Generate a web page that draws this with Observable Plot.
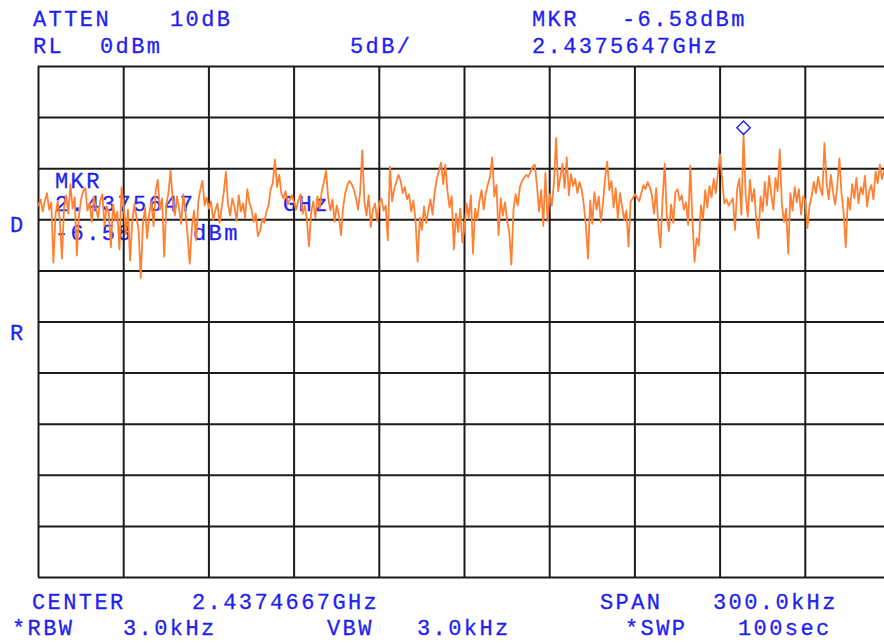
<!DOCTYPE html>
<html>
<head>
<meta charset="utf-8">
<script src="https://cdn.jsdelivr.net/npm/d3@7"></script>
<script src="https://cdn.jsdelivr.net/npm/@observablehq/plot@0.6"></script>
<style>
  body { margin: 0; background: #fff; }
  #wrap { position: relative; width: 884px; height: 643px; overflow: hidden; background: #fff; }
  #labels { position: absolute; left: 0; top: 0; z-index: 1; }
  #labels text { font-family: "Liberation Mono", monospace; font-size: 22px; letter-spacing: 2.4px; fill: #1f1ff0; stroke: #1f1ff0; stroke-width: 0.3px; }
  #chart { position: absolute; left: 0; top: 0; z-index: 2; }
</style>
</head>
<body>
<div id="wrap">
  <svg id="labels" width="884" height="643"></svg>
  <div id="chart"></div>
</div>
<script>
// ---- Instrument settings / text ----
const CENTER_KHZ = 0;          // centre of span (2.4374667 GHz)
const SPAN_KHZ = 300;          // 300.0 kHz span
const REF_LEVEL = 0;           // RL 0 dBm
const DB_PER_DIV = 5;          // 5 dB/div
const DIVS = 10;
const SWEEP_POINTS = 401;

const headerTexts = ["ATTEN", "10dB", "RL", "0dBm", "5dB/", "MKR", "-6.58dBm", "2.4375647GHz"];
const footerTexts = ["CENTER", "2.4374667GHz", "SPAN", "300.0kHz", "*RBW", "3.0kHz", "VBW", "3.0kHz", "*SWP", "100sec"];
const sideTexts = ["D", "R"];
const readoutTexts = ["MKR", "2.4375647", "GHz", "-6.58", "dBm"];

// marker: 2.4375647 GHz -> +98 kHz from centre, -6.58 dBm
const markerIndex = 331;
const markerValue = -6.58;

// ---- Trace (dBm), one value per sweep point ----
const trace0 = [-13.6,-13.0,-14.2,-13.1,-12.4,-14.0,-13.3,-19.2,-14.5,-13.2,-15.0,-18.8,-13.8,-12.6,-14.4,-11.5,-13.9,-12.8,-18.5,-14.6,-13.0,-12.2,-11.9,-14.1,-13.4,-15.2,-12.7,-13.9,-14.8,-13.1,-12.5,-15.6,-13.7,-14.3,-17.7,-13.5,-15.0,-14.2,-17.9,-11.8];
const trace1 = [-13.6,-16.4,-14.0,-19.0,-15.2,-13.5,-14.7,-16.0,-20.7,-15.5,-13.8,-16.8,-14.4,-13.2,-15.6,-12.2,-11.1,-14.0,-12.9,-18.6,-13.5,-12.4,-10.2,-13.0,-14.6,-12.7,-13.9,-15.4,-12.5,-14.2,-16.5,-19.3,-15.8,-14.1,-17.0,-13.3,-12.0,-11.2,-13.6,-12.8];
const trace2 = [-13.9,-13.2,-15.0,-14.1,-13.4,-15.3,-13.8,-12.3,-10.3,-13.5,-14.6,-12.9,-13.7,-15.1,-12.6,-14.2,-13.4,-14.8,-12.0,-13.3,-14.0,-15.2,-14.4,-16.6,-16.1,-14.9,-15.3,-14.2,-13.6,-12.0,-11.4,-9.1,-11.8,-10.6,-12.4,-12.9,-12.2,-13.5,-13.0,-12.6];
const trace3 = [-13.3,-14.0,-13.1,-12.5,-14.4,-13.6,-15.0,-17.6,-14.3,-13.2,-14.8,-12.7,-13.9,-12.2,-11.3,-10.2,-12.8,-14.1,-13.0,-15.2,-13.6,-14.5,-16.5,-13.8,-12.4,-11.6,-11.2,-11.5,-12.0,-12.8,-14.0,-12.3,-8.2,-13.2,-14.6,-12.6,-15.7,-14.0,-13.4,-15.1];
const trace4 = [-13.3,-12.9,-14.1,-13.6,-17.0,-9.8,-13.2,-12.0,-11.3,-10.6,-11.2,-12.4,-11.8,-13.0,-12.5,-14.2,-13.1,-15.0,-19.1,-14.8,-16.0,-13.7,-15.3,-14.1,-13.0,-14.5,-12.3,-11.0,-10.2,-9.4,-11.5,-9.6,-12.2,-13.8,-12.7,-17.9,-14.4,-16.2,-13.9,-17.2];
const trace5 = [-15.8,-13.4,-14.8,-12.6,-18.3,-13.9,-15.0,-13.2,-12.1,-14.0,-12.4,-11.5,-10.8,-8.9,-12.7,-11.6,-16.5,-12.9,-14.6,-13.3,-15.1,-16.2,-19.4,-14.0,-12.5,-13.6,-11.8,-11.2,-10.9,-10.6,-10.8,-10.3,-9.8,-9.6,-11.6,-14.2,-12.1,-15.6,-10.4,-15.1];
const trace6 = [-12.5,-13.6,-11.4,-7.0,-12.2,-10.8,-9.5,-11.9,-8.9,-12.6,-10.5,-11.7,-11.0,-12.4,-11.3,-12.0,-13.5,-15.6,-18.8,-13.1,-15.4,-12.3,-14.0,-12.7,-15.2,-13.4,-11.0,-9.3,-12.1,-11.2,-13.8,-11.9,-14.9,-12.4,-13.7,-15.0,-14.1,-17.6,-13.2,-12.9];
const trace7 = [-12.5,-12.8,-13.2,-12.4,-11.6,-12.0,-11.3,-11.8,-12.6,-14.4,-11.9,-15.6,-17.7,-13.0,-9.5,-14.8,-16.1,-13.5,-15.3,-12.3,-12.0,-13.1,-12.6,-14.0,-13.3,-15.5,-9.7,-15.0,-19.1,-16.8,-17.5,-13.6,-14.9,-12.1,-13.8,-11.7,-12.8,-11.0,-12.4,-10.4];
const trace8 = [-8.6,-11.2,-13.4,-13.0,-13.6,-13.3,-12.9,-16.0,-12.0,-11.0,-14.5,-6.58,-12.6,-14.7,-11.1,-13.2,-12.0,-15.1,-16.8,-12.7,-14.2,-11.3,-13.6,-10.7,-12.5,-14.0,-10.9,-12.2,-8.1,-13.5,-15.2,-13.9,-18.3,-12.4,-14.1,-11.8,-13.3,-12.0,-14.5,-12.7];
const trace9 = [-13.1,-15.8,-13.6,-12.7,-11.3,-12.4,-10.8,-11.9,-12.6,-7.5,-11.4,-13.0,-10.6,-12.3,-13.5,-11.7,-9.0,-12.4,-14.3,-17.7,-12.8,-14.0,-11.5,-12.9,-10.9,-13.4,-11.8,-12.5,-10.7,-13.7,-12.2,-11.6,-13.0,-10.3,-11.4,-9.6,-11.0,-10.2,-11.5,-12.1,-11.8];

const traceDbm = [].concat(trace0, trace1, trace2, trace3, trace4, trace5, trace6, trace7, trace8, trace9);

// ---- build table: sweep point -> frequency offset (kHz) ----
const kHzPerPoint = SPAN_KHZ / (SWEEP_POINTS - 1);
const startKHz = CENTER_KHZ - SPAN_KHZ / 2;
const rows = traceDbm.map((v, i) => ({ f: startKHz + i * kHzPerPoint, dbm: v }));
const marker = { f: startKHz + markerIndex * kHzPerPoint, dbm: markerValue };

const xGrid = d3.range(0, DIVS + 1).map(k => startKHz + k * SPAN_KHZ / DIVS);
const yGrid = d3.range(0, DIVS + 1).map(k => REF_LEVEL - k * DB_PER_DIV);

const chart = Plot.plot({
  width: 884,
  height: 643,
  marginLeft: 38,
  marginRight: -6,
  marginTop: 66,
  marginBottom: 66,
  style: { background: "transparent" },
  x: { domain: [startKHz, startKHz + SPAN_KHZ], axis: null },
  y: { domain: [REF_LEVEL - DIVS * DB_PER_DIV, REF_LEVEL], axis: null },
  marks: [
    Plot.ruleX(xGrid, { stroke: "#1b1b1b", strokeWidth: 2 }),
    Plot.ruleY(yGrid, { stroke: "#1b1b1b", strokeWidth: 2 }),
    Plot.line(rows, { x: "f", y: "dbm", stroke: "#ff8033", strokeWidth: 1.8 }),
    Plot.dot([marker], { x: "f", y: "dbm", symbol: "diamond2", r: 6, stroke: "#2020ff", strokeWidth: 1.5, fill: "none", dy: -6 })
  ]
});
document.getElementById("chart").appendChild(chart);

// ---- screen annotations (layout) ----
const layout = [
  [headerTexts[0], 33, 26], [headerTexts[1], 170, 26],
  [headerTexts[2], 33, 53], [headerTexts[3], 100, 53], [headerTexts[4], 350, 53],
  [headerTexts[5], 532, 26], [headerTexts[6], 622, 26], [headerTexts[7], 532, 53],
  [footerTexts[0], 32, 609], [footerTexts[1], 192, 609],
  [footerTexts[2], 600, 609], [footerTexts[3], 713, 609],
  [footerTexts[4], 12, 635], [footerTexts[5], 123, 635],
  [footerTexts[6], 327, 635], [footerTexts[7], 417, 635],
  [footerTexts[8], 625, 635], [footerTexts[9], 738, 635],
  [sideTexts[0], 10, 232], [sideTexts[1], 10, 340],
  [readoutTexts[0], 55, 188], [readoutTexts[1], 55, 211], [readoutTexts[2], 283, 211],
  [readoutTexts[3], 55, 240], [readoutTexts[4], 193, 240]
];
const lsvg = d3.select("#labels");
lsvg.selectAll("text").data(layout).join("text")
  .attr("x", d => d[1]).attr("y", d => d[2]).text(d => d[0]);
</script>
</body>
</html>
